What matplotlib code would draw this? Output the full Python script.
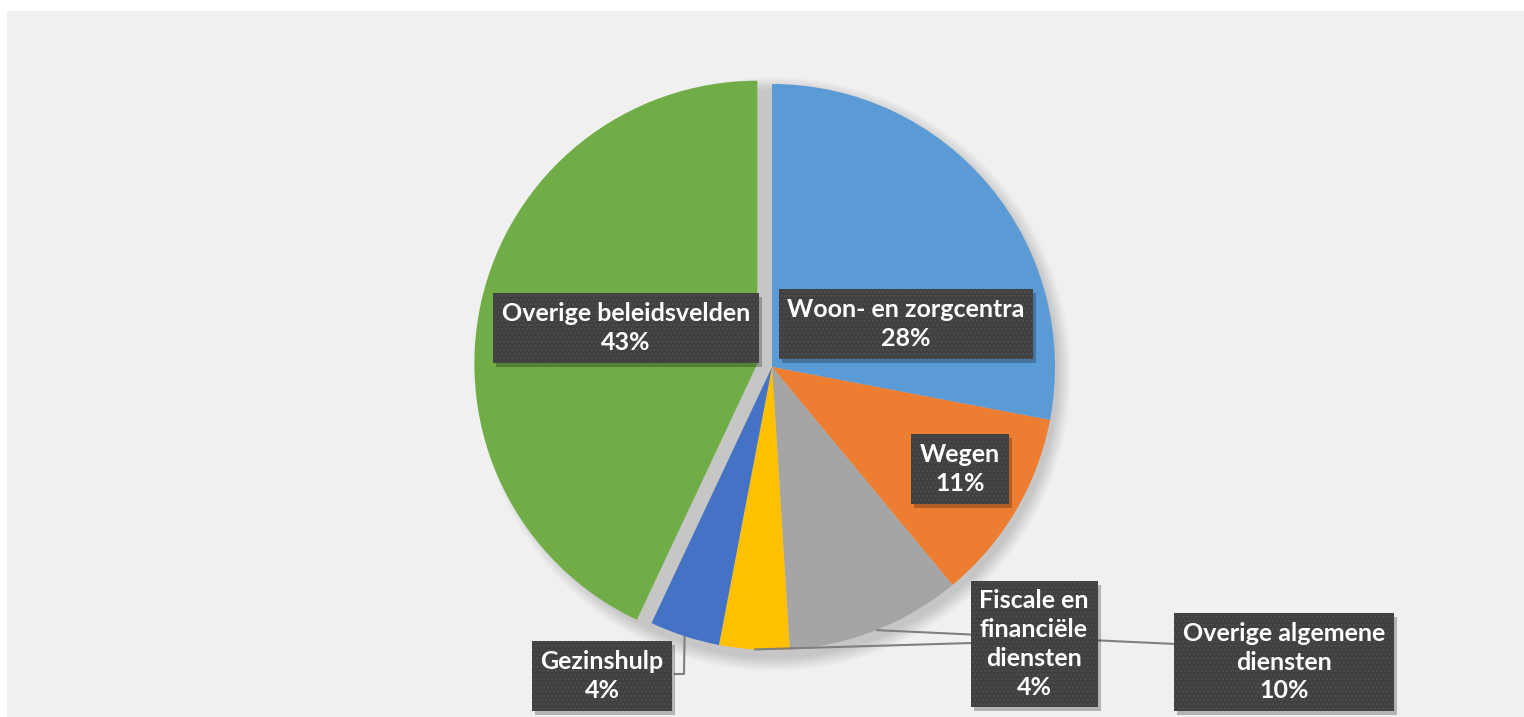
import matplotlib
matplotlib.use('Agg')
import matplotlib.pyplot as plt
from matplotlib.patches import Rectangle, Circle
import numpy as np

# data
labels = ['Woon- en zorgcentra', 'Wegen', 'Overige algemene\ndiensten',
          'Fiscale en\nfinanciële\ndiensten', 'Gezinshulp', 'Overige beleidsvelden']
shares = [28, 11, 10, 4, 4, 43]
colors = ['#5B9BD5', '#ED7D31', '#A5A5A5', '#FFC000', '#4472C4', '#70AD47']
explode = [0, 0, 0, 0, 0, 15]

# label box centres (canvas pixels, y up)
label_pos = [(906, 393), (960, 248), (1284, 55), (1034, 73), (602, 41), (626, 389)]

plt.rcParams['hatch.linewidth'] = 1.0

W, H = 1524, 717
fig = plt.figure(figsize=(W / 100, H / 100), dpi=100)
fig.patch.set_facecolor('white')
ax = fig.add_axes([0, 0, 1, 1])

# grey chart area
ax.add_patch(Rectangle((7, 0), W - 7, H - 11, facecolor='#F0F0F0', edgecolor='none', zorder=0))

cx, cy, R = 772, 350, 283

# soft shadow under the pie
for i in range(14):
    ax.add_patch(Circle((cx + 2, cy - 7), R + 14 - i, facecolor='black', alpha=0.01,
                        edgecolor='none', zorder=1))

wedges, _ = ax.pie(shares, colors=colors, startangle=90, counterclock=False,
                   center=(cx, cy), radius=R, explode=explode,
                   wedgeprops=dict(linewidth=0, zorder=2), frame=True)

ax.set_xlim(0, W)
ax.set_ylim(0, H)
ax.set_aspect('equal')
ax.axis('off')

# mid points on the arc for leader lines
cum = np.cumsum([0] + shares[:-1])
mid_ang = np.deg2rad(90 - 360 * (cum + np.array(shares) / 2) / 100)
arc_pts = [(cx + R * np.cos(a), cy + R * np.sin(a)) for a in mid_ang]

line_kw = dict(color='#7F7F7F', lw=1.5, zorder=3, solid_capstyle='butt')
# Overige algemene diensten
x0, y0 = arc_pts[2]
ax.plot([x0, 1176], [y0, 73], **line_kw)
# Fiscale en financiele diensten
x0, y0 = arc_pts[3]
ax.plot([x0, 972], [y0, 74], **line_kw)
# Gezinshulp
x0, y0 = arc_pts[4]
ax.plot([x0, 684, 674], [y0, 43, 43], **line_kw)

texts = []
for name, v, (lx, ly) in zip(labels, shares, label_pos):
    t = ax.text(lx, ly, f'{name}\n{v}%', ha='center', va='center', color='white',
                fontsize=18, fontweight='bold', family='Lato', linespacing=1.3, zorder=5,
                bbox=dict(boxstyle='square,pad=0.35', facecolor='#404040',
                          edgecolor='#4E4E4E', linewidth=0, hatch='....'))
    texts.append(t)

# drop shadows behind the label boxes
fig.canvas.draw()
inv = ax.transData.inverted()
for t in texts:
    bb = t.get_bbox_patch().get_window_extent()
    (x1, y1), (x2, y2) = inv.transform([(bb.x0, bb.y0), (bb.x1, bb.y1)])
    ax.add_patch(Rectangle((x1 + 3, y1 - 4), x2 - x1, y2 - y1, facecolor='black',
                           alpha=0.25, edgecolor='none', zorder=4))

fig.savefig('out.png', dpi=100, facecolor=fig.get_facecolor())
